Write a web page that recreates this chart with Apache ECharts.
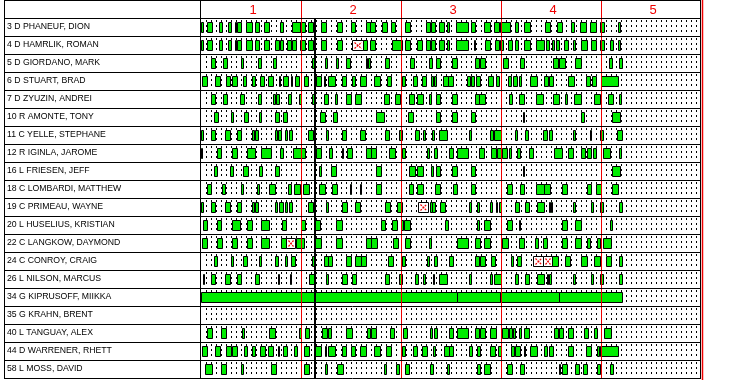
<!DOCTYPE html>
<html>
<head>
<meta charset="utf-8">
<script src="https://cdn.jsdelivr.net/npm/echarts@6.0.0/dist/echarts.min.js"></script>
<style>
html,body{margin:0;padding:0;background:#fff;}
#chart{width:752px;height:380px;}
</style>
</head>
<body>
<div id="chart"></div>
<script>
// Roster, top to bottom
const players = [
  '3 D PHANEUF, DION', '4 D HAMRLIK, ROMAN', '5 D GIORDANO, MARK', '6 D STUART, BRAD',
  '7 D ZYUZIN, ANDREI', '10 R AMONTE, TONY', '11 C YELLE, STEPHANE', '12 R IGINLA, JAROME',
  '16 L FRIESEN, JEFF', '18 C LOMBARDI, MATTHEW', '19 C PRIMEAU, WAYNE', '20 L HUSELIUS, KRISTIAN',
  '22 C LANGKOW, DAYMOND', '24 C CONROY, CRAIG', '26 L NILSON, MARCUS', '34 G KIPRUSOFF, MIIKKA',
  '35 G KRAHN, BRENT', '40 L TANGUAY, ALEX', '44 D WARRENER, RHETT', '58 L MOSS, DAVID'
];

// Period headers and the game clock (minutes)
const periodLabels = ['1', '2', '3', '4', '5'];
const periodStarts = [0, 20, 40, 60, 80];
const periodLength = 20;
const clockMax = 100;
const nowMinute = 22.8;

// Shifts on ice, [start, end] in game minutes, one list per player
const shiftsPhaneuf = [[0,0.3],[1.2,2.1],[3.5,4.2],[5.3,5.9],[6.7,6.9],[7.2,7.9],[9,10.2],[10.8,11.5],[12.5,13.5],[15.7,16.3],[18.2,19.7],[19.8,20.7],[21.4,22.4],[23.9,25],[27.2,28.2],[30,30.8],[32.9,33.7],[33.8,34.7],[36.2,37.1],[38,38.7],[40.8,41.7],[45,45.8],[45.9,46.8],[47.6,48.6],[49.1,49.5],[51,53.4],[54,54.9],[56.6,57.7],[58.6,59.5],[59.8,61.8],[62.7,63.3],[64.5,65.7],[68.8,69.7],[71.2,72.2],[73.9,74.5],[75.8,76.9],[77.8,78.9],[79.8,80.6],[83.3,83.8]];
const shiftsHamrlik = [[0,0.3],[1.2,2.1],[3.5,4.2],[5.3,5.9],[6.7,6.9],[7.2,7.9],[9,10.2],[10.8,11.5],[12.5,13.5],[14.8,15.6],[15.7,16.4],[17.2,18],[18.1,18.9],[19.8,20.7],[21.4,22.3],[23.9,25],[27.2,28.1],[32.4,33.1],[33.8,34.7],[38.2,40.1],[40.8,41.7],[43.2,44.1],[45,45.8],[45.9,46.8],[47.6,48.6],[49.1,49.5],[51,53.4],[54.5,54.9],[56.7,57.8],[58.7,59.5],[59.8,60.3],[61.3,62.1],[62.7,63.3],[64.5,65.7],[67,68.5],[69,69.6],[70.1,70.6],[71,71.5],[72.5,73.3],[74.3,74.8],[75.9,77.1],[77.9,78.9],[79.8,80.5],[81.8,82.3],[83.3,83.8]];
const shiftsGiordano = [[1.9,2.7],[4.4,5.1],[7.9,8.4],[11.4,11.9],[14.4,14.9],[22.2,22.6],[24.7,25.1],[26.9,27.3],[29,29.8],[32.9,33.2],[33.3,33.8],[36.7,37.5],[41.7,42.5],[45.6,46.1],[47,47.7],[50.2,51.1],[54.8,55.5],[55.7,56.7],[60.3,61.3],[63.7,64.6],[70.3,71.3],[71.5,72.8],[74.7,75.9],[81.5,82.1],[83.6,84.1]];
const shiftsStuart = [[0.1,1.2],[2.7,3.7],[4.9,5.8],[6.1,7.2],[8.4,9],[10.1,10.8],[11.8,12.6],[13.4,14.4],[15.5,15.8],[16.4,17.3],[17.9,18.2],[18.7,19.6],[20.6,21.4],[22.9,23.9],[24.6,24.8],[25.4,26.8],[28.2,29],[30.1,30.8],[31.8,33],[34.6,35.8],[37.2,38],[40.1,40.8],[42.4,43.2],[44.2,45],[45.9,46.3],[46.6,46.9],[48.3,49.4],[49.4,50.3],[53.3,53.7],[53.9,54.5],[55,55.9],[57.4,58.3],[58.9,59.6],[61.4,62],[62.4,63.2],[63.5,63.9],[65.7,67.1],[68.5,69.3],[69.6,70.3],[73.3,74.5],[76.9,77.8],[78.1,79],[79.9,83.3]];
const shiftsZyuzin = [[1.9,2.8],[4.3,5.1],[7.8,8.5],[11.3,12],[14.4,14.8],[14.9,15.5],[17.3,18],[19.6,19.9],[22.1,22.5],[24.5,25.3],[26.7,27.2],[28.9,29.9],[30.8,31.9],[36.5,37.5],[38.7,39.7],[41.5,42.5],[43.1,44.3],[45.5,46],[46.9,47.7],[50.2,51.1],[54.8,55.5],[55.6,56.7],[61.5,62.1],[63.6,64.5],[67,68.4],[70.4,71.5],[72.7,73.2],[74.6,75.9],[78.6,79.7],[81.4,82.3],[83.5,84]];
const shiftsAmonte = [[2.6,3.3],[5.9,6.3],[8.5,9.3],[11.5,12],[14.8,15.5],[16.3,17.1],[23.8,24.7],[26.3,27.1],[35,36.5],[41.4,42.4],[46.9,47.7],[50.2,51.1],[54,54.9],[64.4,64.6],[75.9,76.5],[82.2,83.7]];
const shiftsYelle = [[0,0.3],[2,2.7],[4.8,5.8],[7.2,8],[10.2,10.6],[10.7,11.3],[14.7,15.1],[15.3,16],[16.8,17.1],[17.5,18.1],[21.3,22.3],[25,25.3],[28.1,28.9],[31.8,32.8],[36.7,37.5],[39.5,40.1],[42.7,43.5],[44.3,44.8],[46.2,46.5],[47.6,49.2],[53.5,54],[57.7,58.3],[58.5,59.9],[62.7,63.2],[64.7,65.3],[68.3,69.1],[69.5,70.1],[74.3,74.8],[77.7,78],[79.7,80.3],[83.2,84.1]];
const shiftsIginla = [[0,0.2],[3.2,4],[6.2,7.2],[9.2,10.8],[12,14],[15.7,16.3],[18.4,19.9],[19.9,20.7],[22.9,23.9],[25.5,26.1],[28.1,28.4],[29.1,30.1],[33,33.9],[34,35],[37.5,38.8],[40.1,40.8],[45.1,45.6],[46.5,47.1],[49.5,50.3],[51.1,53.4],[55.5,56.5],[57.9,58.9],[59.1,60],[60.1,61.2],[61.6,61.9],[63.1,63.7],[65.6,66.4],[70.5,72.1],[73.3,74.3],[76,76.7],[77.2,77.9],[78.3,78.9],[80.3,81.7],[83.5,84]];
const shiftsFriesen = [[2.5,3.2],[5.8,6.3],[8.4,9.3],[11.5,12.1],[14.8,15.5],[23.5,24],[25.9,26.9],[35,35.9],[41.6,42.7],[43.2,44.3],[45.9,46.3],[46.9,47.7],[50.2,51.1],[54,54.8],[64.3,64.5],[82.1,83.7]];
const shiftsLombardi = [[1.1,2],[4.1,4.8],[7.9,8.3],[11.1,11.6],[13.5,14.7],[17.3,18],[18.5,19.7],[20.3,21.5],[23.6,24.8],[26.1,27.1],[29.7,30],[31.7,32],[35,36],[41.5,42.4],[43.1,44.3],[46.8,47.7],[50.3,51.2],[53.9,54.8],[61.2,62.1],[63.7,64.5],[67,68.5],[68.6,69.7],[72.1,73.2],[77.2,77.9],[79,79.9],[82.1,83.3]];
const shiftsPrimeau = [[0,0.3],[1.9,2.7],[4.8,5.8],[7.2,8],[10.2,10.6],[10.7,11.3],[14.7,15.1],[15.5,16.3],[16.8,17.1],[17.5,18.2],[21.3,22.3],[25,25.3],[28.1,29.1],[30.8,31.8],[36.7,37.7],[39.2,40.1],[45.8,46.1],[46.2,46.8],[47.7,48.8],[53.5,53.9],[55.3,55.6],[57.7,58.1],[58.9,59.2],[59.6,59.9],[62.7,63.5],[64.7,65.5],[67.1,68.5],[69.5,69.8],[69.9,70.2],[74.3,74.8],[77.9,78.3],[79.7,80.4],[83.5,84.1]];
const shiftsHuselius = [[0.3,1.2],[3.2,3.9],[6.2,7.7],[9.2,10.2],[12,13.5],[16.2,17],[19.9,20.8],[22.8,23.7],[26.9,28.1],[35.9,36.7],[38.2,39.2],[40,40.3],[40.5,41.7],[48.7,49.3],[55.3,55.6],[56.5,57.7],[61.2,62.1],[63.6,63.8],[72.1,73.2],[74.8,75.9],[81.7,82.2]];
const shiftsLangkow = [[0.1,1.2],[3.2,4.1],[6.2,7.2],[9.2,10.2],[12,13.5],[16,16.9],[18.9,19.9],[19.9,20.5],[22.8,23.9],[26.9,28.1],[33,34],[34,35.2],[38.4,39.3],[40.8,41.7],[45.5,46],[51.1,53.4],[54.9,55.7],[56.5,57.7],[60.1,61.3],[63.5,64.5],[66.8,67.3],[68.4,69.1],[72.1,73.2],[74.8,75.9],[77.1,77.7],[79.1,79.7],[80.3,82]];
const shiftsConroy = [[2.5,3.2],[5.9,6.3],[8.4,9.2],[11.5,12],[14.8,15.3],[16.8,17.1],[17.9,18.7],[22.2,22.6],[24.5,25.3],[25.3,26.1],[28.9,29.9],[30.8,31.9],[31.9,33],[37.3,38.3],[40.1,40.7],[45.1,45.6],[46.5,47.1],[49.5,50.3],[54.8,55.5],[55.7,56.7],[57.9,58.7],[61.9,62.4],[63.2,63.9],[70.2,71.3],[72.8,73.7],[75.9,77.1],[78.5,79.7],[80.9,82],[83.5,84.1]];
const shiftsNilson = [[0.3,0.6],[1.9,2.7],[4.8,5.8],[7.2,8],[10.8,11.5],[15.3,15.6],[17.7,18],[21.5,22.5],[25,25.3],[28.1,29.1],[30.1,30.9],[36.7,37.5],[39.5,40.1],[42.7,43.3],[44.3,44.8],[46.3,46.6],[47.6,49.2],[53.5,53.9],[57.7,58.1],[58.5,59.9],[62.7,63.3],[64.7,65.5],[67.1,68.5],[69.1,69.4],[69.6,69.9],[74.3,74.8],[77.9,78.3],[79.7,80.4],[83.5,84.1]];
const shiftsKiprusoff = [[0,20],[20,22.8],[22.8,40],[40,51.1],[51.1,59.8],[59.8,71.5],[71.5,79.9],[79.9,84.2]];
const shiftsKrahn = [];
const shiftsTanguay = [[1.1,2.1],[3.9,4.9],[8.1,8.5],[13.5,14.7],[19.6,19.9],[20.8,21.5],[24.1,25.1],[25.3,26],[29,30.2],[33.1,33.8],[33.9,35],[37.7,38.5],[40.4,41.2],[45.7,46.1],[46.6,47.1],[49.5,50.3],[51.1,53.4],[54.8,55.5],[55.7,56.8],[57.8,58.9],[60.2,61.3],[61.6,62.1],[62.4,62.8],[63.5,63.9],[64.5,65.6],[70.5,71.3],[71.5,72.3],[73.3,74.3],[76.5,77.3],[78.5,79.1],[80.5,81.9]];
const shiftsWarrener = [[0.1,1.2],[2.7,3.7],[4.9,5.9],[6.1,7.2],[8.5,9.1],[10.2,10.8],[11.8,12.7],[13.3,14.4],[15.3,15.6],[16.4,17.2],[18.5,19.2],[20.5,21.5],[22.8,23.9],[24.8,25],[25.3,26.8],[28.1,29],[30,30.8],[31.8,32.9],[34.5,35.7],[37,37.9],[40.1,40.8],[42.3,43.2],[44.1,45.1],[46.3,46.7],[48.5,49.5],[49.5,50.3],[53.5,54.1],[55.3,55.8],[57.7,58.8],[59.3,60],[62,62.5],[62.8,63.7],[64.5,64.8],[65.7,67.1],[68.5,69.1],[69.6,70.3],[73.3,74.3],[77,77.9],[79.1,79.5],[79.8,83.3]];
const shiftsMoss = [[0.8,2.1],[3.9,4.9],[7.9,8.4],[14,15],[20.6,21.5],[24.7,25.1],[27.1,28.3],[36.5,36.9],[38.9,39.6],[40.8,41.5],[45.7,46.4],[49.2,49.5],[55.3,55.8],[56.6,57.7],[61.2,62.1],[63.7,64.5],[71.5,71.7],[72.2,73.2],[74.8,75.6],[76.3,77.2],[79.1,79.8],[81.8,82.3]];

const shiftLists = [
  shiftsPhaneuf, shiftsHamrlik, shiftsGiordano, shiftsStuart, shiftsZyuzin, shiftsAmonte,
  shiftsYelle, shiftsIginla, shiftsFriesen, shiftsLombardi, shiftsPrimeau, shiftsHuselius,
  shiftsLangkow, shiftsConroy, shiftsNilson, shiftsKiprusoff, shiftsKrahn, shiftsTanguay,
  shiftsWarrener, shiftsMoss
];

// Penalty time: [player index, start, end]
const penalties = [[1, 30.2, 32.3], [10, 43.3, 45.3], [12, 16.9, 18.7], [13, 66.4, 68.3], [13, 68.3, 70.2]];

// Category 0 is the header band; players start at category 1
const yCategories = [''].concat(players);

const shiftData = [];
shiftLists.forEach(function (list, i) {
  list.forEach(function (s) { shiftData.push([i + 1, s[0], s[1]]); });
});
const penaltyData = penalties.map(function (p) { return [p[0] + 1, p[1], p[2]]; });
const rowData = players.map(function (_, i) { return [i + 1]; });
const headerData = periodLabels.map(function (t, i) { return [periodStarts[i] + periodLength / 2, 0, t]; });
const periodLineData = periodStarts.slice(1).map(function (m) { return [m]; });

const GREEN = '#00ec00';
const RED = '#f00000';
const px = function (v) { return Math.round(v) + 0.5; };

function boxRect(api, h) {
  const row = api.value(0);
  const a = api.coord([api.value(1), row]);
  const b = api.coord([api.value(2), row]);
  const x0 = Math.round(a[0]) + 0.5;
  const x1 = Math.round(b[0]) + 0.5;
  const y0 = Math.round(a[1] - h / 2) + 0.5;
  return { x: x0, y: y0, width: Math.max(x1 - x0, 1), height: h };
}

const chart = echarts.init(document.getElementById('chart'), null, { renderer: 'canvas' });

chart.setOption({
  animation: false,
  backgroundColor: '#ffffff',
  grid: { left: 201, right: 51, top: 0, bottom: 2, containLabel: false },
  xAxis: {
    type: 'value', min: 0, max: clockMax,
    axisLine: { show: false }, axisTick: { show: false }, axisLabel: { show: false }, splitLine: { show: false }
  },
  yAxis: {
    type: 'category', inverse: true, data: yCategories,
    axisLine: { show: false }, axisTick: { show: false }, splitLine: { show: false },
    axisLabel: {
      align: 'left', margin: 194, color: '#000', fontSize: 8.7,
      fontFamily: '"Liberation Sans", Arial, sans-serif'
    }
  },
  series: [
    {
      // dotted minute ticks within each player row
      name: 'minutes', type: 'custom', silent: true, data: rowData,
      renderItem: function (params, api) {
        const row = api.value(0);
        const c = api.coord([0, row]);
        const band = api.size([0, 1])[1];
        const top = Math.round(c[1] - band / 2);
        const children = [];
        for (let m = 1; m < clockMax; m++) {
          if (m % periodLength === 0) continue;
          const x = px(api.coord([m, row])[0]);
          children.push({
            type: 'line',
            shape: { x1: x, y1: top + 2, x2: x, y2: top + 15 },
            style: { stroke: '#000', lineWidth: 1, lineDash: [2, 3] }
          });
        }
        return { type: 'group', children: children };
      }
    },
    {
      name: 'shifts', type: 'custom', data: shiftData,
      renderItem: function (params, api) {
        return {
          type: 'rect', shape: boxRect(api, 10),
          style: { fill: GREEN, stroke: '#000', lineWidth: 1 }
        };
      }
    },
    {
      name: 'penalties', type: 'custom', data: penaltyData,
      renderItem: function (params, api) {
        const r = boxRect(api, 10);
        const dash = { stroke: RED, lineWidth: 1.2, lineDash: [2, 1] };
        return {
          type: 'group',
          children: [
            { type: 'rect', shape: r, style: { fill: '#fff', stroke: '#000', lineWidth: 1 } },
            { type: 'line', shape: { x1: r.x + 2, y1: r.y + 2, x2: r.x + r.width - 2, y2: r.y + r.height - 2 }, style: dash },
            { type: 'line', shape: { x1: r.x + 2, y1: r.y + r.height - 2, x2: r.x + r.width - 2, y2: r.y + 2 }, style: dash }
          ]
        };
      }
    },
    {
      // red period boundaries, full height
      name: 'periods', type: 'custom', silent: true, data: periodLineData, z: 5,
      renderItem: function (params, api) {
        const x = px(api.coord([api.value(0), 0])[0]);
        return { type: 'line', shape: { x1: x, y1: 0, x2: x, y2: 378 }, style: { stroke: RED, lineWidth: 1 } };
      }
    },
    {
      // game clock marker
      name: 'now', type: 'custom', silent: true, data: [[nowMinute]], z: 6,
      renderItem: function (params, api) {
        const x = Math.round(api.coord([api.value(0), 1])[0]);
        return { type: 'line', shape: { x1: x, y1: 18, x2: x, y2: 378 }, style: { stroke: '#000', lineWidth: 2 } };
      }
    },
    {
      name: 'header', type: 'custom', silent: true, data: headerData, z: 6,
      renderItem: function (params, api) {
        const p = api.coord([api.value(0), api.value(1)]);
        return {
          type: 'text',
          style: {
            x: p[0] + 2, y: p[1] + 1, text: periodLabels[params.dataIndex],
            fill: RED, font: '13px "Liberation Sans", Arial, sans-serif',
            align: 'center', verticalAlign: 'middle'
          }
        };
      }
    }
  ],
  graphic: (function () {
    const els = [];
    for (let k = 0; k <= players.length + 1; k++) {
      const y = 18 * k + 0.5;
      els.push({ type: 'line', silent: true, z: 10, shape: { x1: 4, y1: y, x2: 701, y2: y }, style: { stroke: '#000', lineWidth: 1 } });
    }
    [4.5, 200.5, 700.5].forEach(function (x) {
      els.push({ type: 'line', silent: true, z: 10, shape: { x1: x, y1: 0, x2: x, y2: 379 }, style: { stroke: '#000', lineWidth: 1 } });
    });
    els.push({ type: 'line', silent: true, z: 10, shape: { x1: 702.5, y1: 0, x2: 702.5, y2: 380 }, style: { stroke: RED, lineWidth: 1.5 } });
    return els;
  })()
});
</script>
</body>
</html>
